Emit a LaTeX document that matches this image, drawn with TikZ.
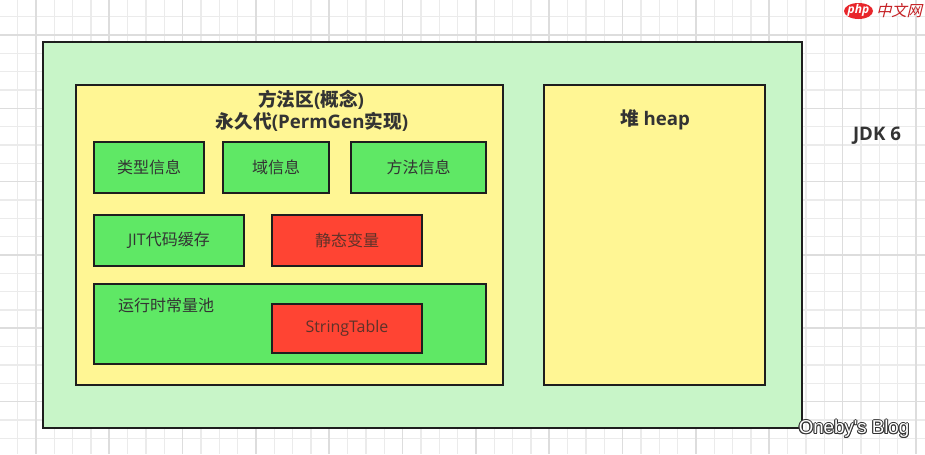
\documentclass[tikz,border=0pt]{standalone}
\usepackage{fontspec}
\setmainfont{Open Sans}
\newfontfamily\cjk{Noto Sans CJK SC}
\newfontfamily\cjkslant[FakeSlant=0.25]{Noto Sans CJK SC}
\newfontfamily\blogfont{Liberation Sans}
\usetikzlibrary{shapes.geometric}
\definecolor{outergreen}{HTML}{C8F5C8}
\definecolor{areayellow}{HTML}{FFF694}
\definecolor{boxgreen}{HTML}{5FE865}
\definecolor{boxred}{HTML}{FF4433}
\definecolor{edge}{HTML}{1E1E1E}
\definecolor{txt}{HTML}{333333}
\definecolor{redtxt}{HTML}{5E3229}
\definecolor{gridminor}{HTML}{EBEBEB}
\definecolor{gridmajor}{HTML}{DDDDDD}
\definecolor{logored}{HTML}{E8262B}
\tikzset{
  gridminorline/.style={draw=gridminor, line width=0.9pt},
  gridmajorline/.style={draw=gridmajor, line width=1.2pt},
  sized/.style n args={2}{minimum width=#1*0.75pt, minimum height=#2*0.75pt},
  region/.style={draw=edge, line width=1.5pt, inner sep=0pt, rectangle},
  outerbox/.style={region, fill=outergreen},
  areabox/.style={region, fill=areayellow},
  greenbox/.style={draw=edge, line width=1.3pt, inner sep=0pt, rectangle, fill=boxgreen, text=txt, font=\fontsize{12}{14}\selectfont},
  redbox/.style={draw=edge, line width=1.3pt, inner sep=0pt, rectangle, fill=boxred, text=redtxt, font=\fontsize{12}{14}\selectfont},
  plaintext/.style={inner sep=0pt, text=txt, font=\fontsize{12}{14}\selectfont},
  titletext/.style={inner sep=0pt, text=txt, font=\fontsize{14}{16}\selectfont\bfseries},
  blogtext/.style={inner sep=0pt, font=\blogfont\fontsize{14}{16}\selectfont},
}
\begin{document}
\begin{tikzpicture}[x=0.75pt,y=-0.75pt]
\useasboundingbox (0,0) rectangle (925,454);
\fill[white] (0,0) rectangle (925,454);
% background grid
\foreach \i in {0,...,51} \draw[gridminorline] ({\i*18.333-0.7},0) -- ({\i*18.333-0.7},454);
\foreach \j in {0,...,25} \draw[gridminorline] (0,{\j*18.333-1.7}) -- (925,{\j*18.333-1.7});
\foreach \i in {2,6,...,50} \draw[gridmajorline] ({\i*18.333-0.7},0) -- ({\i*18.333-0.7},454);
\foreach \j in {2,6,...,22} \draw[gridmajorline] (0,{\j*18.333-1.7}) -- (925,{\j*18.333-1.7});

% outer JDK area
\node[outerbox, sized={759}{386}] (jdk) at (422.5,235) {};
\node[titletext] (jdklabel) at (877,136) {JDK 6};

% method area
\node[areabox, sized={427}{300}] (method) at (289.5,235) {};
\node[titletext] (methodtitle1) at (311,100) {{\cjk 方法区}({\cjk 概念})};
\node[titletext] (methodtitle2) at (312,122) {{\cjk 永久代}(PermGen{\cjk 实现})};

\node[greenbox, sized={110}{51}] (typeinfo) at (149,167.5) {\cjk 类型信息};
\node[greenbox, sized={106}{51}] (fieldinfo) at (276,167.5) {\cjk 域信息};
\node[greenbox, sized={135}{51}] (methodinfo) at (418.5,167.5) {\cjk 方法信息};
\node[greenbox, sized={150}{51}] (jit) at (169,240.5) {JIT{\cjk 代码缓存}};
\node[redbox, sized={150}{51}] (static) at (347,240.5) {\cjk 静态变量};
\node[greenbox, sized={392}{80}] (pool) at (290,324) {};
\node[plaintext] (poollabel) at (166,305) {\cjk 运行时常量池};
\node[redbox, sized={150}{49}] (stringtable) at (347,328.5) {StringTable};

% heap
\node[areabox, sized={221}{300}] (heap) at (654.5,235) {};
\node[titletext] (heaplabel) at (655,120) {{\cjk 堆} heap};

% watermark logo
\node[ellipse, fill=logored, sized={29}{16}, inner sep=0pt] (phplogo) at (858.5,11) {};
\node[inner sep=0pt, text=white, font=\fontsize{9}{10}\selectfont\bfseries\itshape] (phptext) at (858.5,10.5) {php};
\node[inner sep=0pt, text=logored!85!black, font=\fontsize{11.5}{13}\selectfont] (cnlogo) at (899,11) {\cjkslant 中文网};

% blog watermark with outline
\foreach \dx/\dy [count=\k] in {-1/0,1/0,0/-1,0/1,-0.8/-0.8,0.8/0.8,-0.8/0.8,0.8/-0.8}
  \node[blogtext, text=black!80] (blogshadow\k) at (854+\dx,429+\dy) {Oneby's Blog};
\node[blogtext, text=white] (blog) at (854,429) {Oneby's Blog};
\end{tikzpicture}
\end{document}
